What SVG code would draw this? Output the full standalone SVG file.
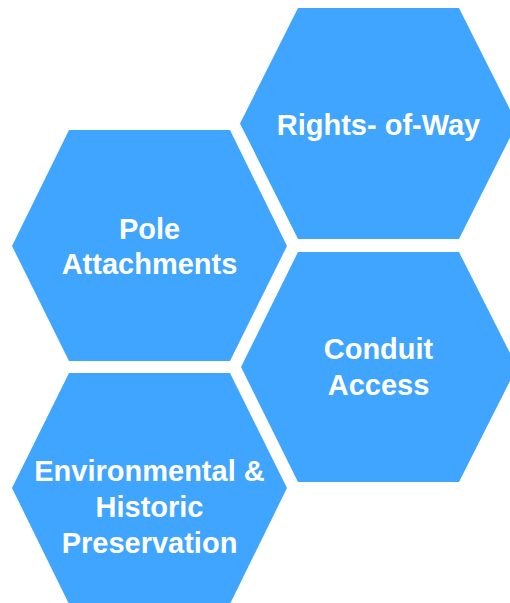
<svg xmlns="http://www.w3.org/2000/svg" width="510" height="603" viewBox="0 0 510 603">
<style>
.hex{fill:#40A5FE;}
.lbl{font-family:"Liberation Sans",Arial,sans-serif;font-weight:bold;font-size:29px;fill:#FFFFFF;text-anchor:middle;}
</style>
<rect width="510" height="603" fill="#FFFFFF"/>
<g id="rights-of-way">
<polygon class="hex" points="298,8 459,8 517,123.5 459,239 298,239 240,123.5"/>
<text class="lbl" x="378.5" y="135">Rights- of-Way</text>
</g>
<g id="pole-attachments">
<polygon class="hex" points="69,130 230,130 287,246 230,361 69,361 12,246"/>
<text class="lbl" x="149.5" y="239">Pole</text>
<text class="lbl" x="149.5" y="274">Attachments</text>
</g>
<g id="conduit-access">
<polygon class="hex" points="298,252 459,252 517,367 459,482 298,482 241,367"/>
<text class="lbl" x="378.5" y="359">Conduit</text>
<text class="lbl" x="378.5" y="395">Access</text>
</g>
<g id="environmental">
<polygon class="hex" points="69,373 230,373 287,488 230,604 69,604 12,488"/>
<text class="lbl" x="149.5" y="481">Environmental &amp;</text>
<text class="lbl" x="149.5" y="517">Historic</text>
<text class="lbl" x="149.5" y="553">Preservation</text>
</g>
<g id="connectors"/>
</svg>
